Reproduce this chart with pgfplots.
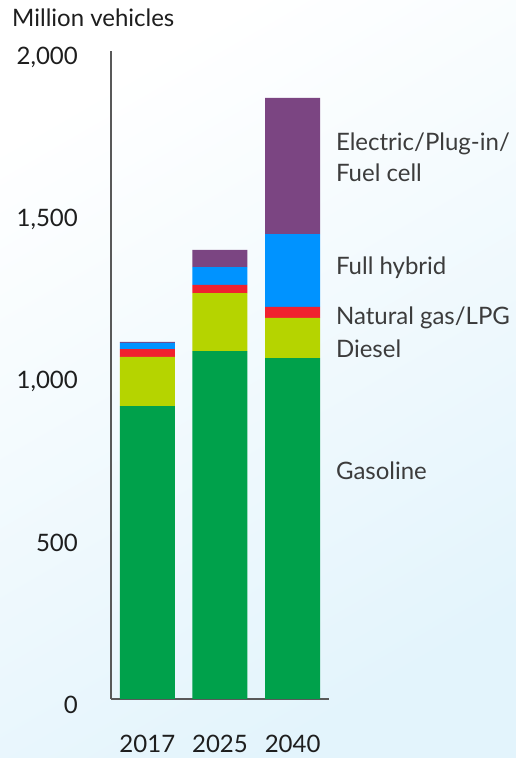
\documentclass[border=0pt]{standalone}
\usepackage{fontspec}
\setmainfont{Lato}
\usepackage{pgfplots}
\pgfplotsset{compat=1.18}
\definecolor{gas}{HTML}{00A14B}
\definecolor{dsl}{HTML}{B5D400}
\definecolor{ngl}{HTML}{F0212F}
\definecolor{hyb}{HTML}{0093FF}
\definecolor{elc}{HTML}{7B4582}
\definecolor{bgb}{HTML}{E3F4FC}
\definecolor{txt}{HTML}{1E1E1E}
\definecolor{lab}{HTML}{3C3C3C}
\begin{document}
\begin{tikzpicture}[x=1pt,y=1pt]
\shade[top color=white, bottom color=bgb, shading angle=30] (0,0) rectangle (516,758);
\node[anchor=west, inner sep=0pt, text=txt, font=\fontsize{24}{28}\selectfont] at (12,740) {Million vehicles};
\begin{axis}[at={(111pt,59pt)}, anchor=south west, scale only axis,
  width=218pt, height=648pt, xmin=-0.5, xmax=2.5, ymin=0, ymax=2000,
  ybar stacked, bar width=55pt,
  axis x line*=bottom, axis y line*=left,
  axis line style={draw=black!65, line width=1.2pt},
  major tick length=0pt,
  xtick={0,1,2}, xticklabels={2017,2025,2040},
  ytick={0,500,1000,1500,2000}, yticklabels={0,500,{1,000},{1,500},{2,000}},
  ticklabel style={font=\fontsize{24}{28}\selectfont, inner sep=0pt, text=txt},
  yticklabel style={anchor=east, xshift=-33pt, yshift=-6pt},
  xticklabel style={anchor=north, yshift=-36pt},
  clip=false]
\addplot[fill=gas, draw=none] coordinates {(0,904) (1,1074) (2,1052)};
\addplot[fill=dsl, draw=none] coordinates {(0,152) (1,179) (2,124)};
\addplot[fill=ngl, draw=none] coordinates {(0,24) (1,25) (2,34)};
\addplot[fill=hyb, draw=none] coordinates {(0,19) (1,55) (2,225)};
\addplot[fill=elc, draw=none] coordinates {(0,3) (1,53) (2,420)};
\node[anchor=west, align=left, inner sep=0pt, text=lab, font=\fontsize{24}{31}\selectfont] at (axis cs:2.594,1673) {Electric/Plug-in/\\Fuel cell};
\node[anchor=west, inner sep=0pt, text=lab, font=\fontsize{24}{28}\selectfont] at (axis cs:2.594,1330) {Full hybrid};
\node[anchor=west, inner sep=0pt, text=lab, font=\fontsize{24}{28}\selectfont] at (axis cs:2.594,1176) {Natural gas/LPG};
\node[anchor=west, inner sep=0pt, text=lab, font=\fontsize{24}{28}\selectfont] at (axis cs:2.594,1080) {Diesel};
\node[anchor=west, inner sep=0pt, text=lab, font=\fontsize{24}{28}\selectfont] at (axis cs:2.594,704) {Gasoline};
\end{axis}
\end{tikzpicture}
\end{document}
